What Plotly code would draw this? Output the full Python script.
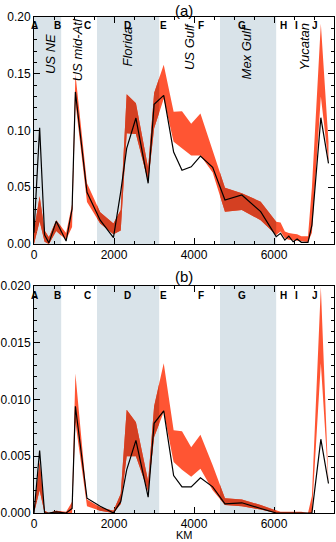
import plotly.graph_objects as go

# distance along the coast (km) of each estimate
KM = [0, 141, 265, 373, 555, 803, 952, 1035, 1325, 1655, 1986, 2168, 2317, 2548,
      2854, 3003, 3243, 3491, 3700, 3930, 4161, 4467, 4774, 5196, 5667, 6055,
      6164, 6271, 6370, 6478, 6578, 6684, 6850, 6948, 7171, 7362]

# panel (a): observed line and model range
A_OBS = [0.010, 0.1025, 0.008, 0.001, 0.020, 0.0026, 0.031, 0.134, 0.0455, 0.021,
         0.0056, 0.046, 0.0843, 0.111, 0.0535, 0.123, 0.131, 0.081, 0.065, 0.068,
         0.0775, 0.0676, 0.0388, 0.0432, 0.0285, 0.0065, 0.0094, 0.0035, 0.0070,
         0.0020, 0.0044, 0.0015, 0.0015, 0.0167, 0.1113, 0.071]
A_HI = [0.012, 0.042, 0.012, 0.006, 0.021, 0.0096, 0.035, 0.150, 0.0535, 0.028,
        0.018, 0.030, 0.132, 0.124, 0.067, 0.133, 0.158, 0.1166, 0.117, 0.106,
        0.115, 0.082, 0.0496, 0.0447, 0.0373, 0.0197, 0.019, 0.011, 0.0097,
        0.009, 0.0085, 0.0068, 0.0068, 0.05, 0.194, 0.090]
A_LO = [0.0, 0.02, 0.002, 0.0, 0.0114, 0.0037, 0.015, 0.125, 0.037, 0.018,
        0.0085, 0.012, 0.0975, 0.097, 0.055, 0.102, 0.128, 0.090, 0.0843, 0.078,
        0.078, 0.063, 0.0285, 0.030, 0.021, 0.008, 0.011, 0.005, 0.0038,
        0.003, 0.003, 0.0024, 0.0018, 0.01, 0.13, 0.072]

# panel (b)
B_OBS = [0.0, 0.0055, 0.0, 0.0, 0.0001, 0.0, 0.0004, 0.0094, 0.0013, 0.0006,
         0.0, 0.001, 0.0038, 0.0064, 0.0014, 0.0079, 0.0090, 0.0033, 0.0023, 0.0023,
         0.0031, 0.0023, 0.0008, 0.0009, 0.0004, 0.0, 0.0, 0.0, 0.0,
         0.0, 0.0, 0.0, 0.0, 0.0, 0.0065, 0.0026]
B_HI = [0.0, 0.0045, 0.0002, 0.0, 0.0002, 0.0001, 0.001, 0.0123, 0.0012, 0.0005,
        0.0002, 0.0017, 0.0091, 0.0080, 0.0028, 0.0094, 0.0132, 0.0073, 0.0072, 0.0058,
        0.0069, 0.0042, 0.0013, 0.0012, 0.0007, 0.0002, 0.0001, 0.0001, 0.0001,
        0.0001, 0.0001, 0.0001, 0.0, 0.0015, 0.0199, 0.0038]
B_LO = [0.0, 0.002, 0.0, 0.0, 0.0, 0.0, 0.0, 0.008, 0.0006, 0.0002,
        0.0, 0.0008, 0.005, 0.005, 0.0019, 0.0067, 0.0089, 0.0045, 0.0038, 0.0032,
        0.0039, 0.002, 0.0007, 0.0006, 0.0003, 0.0, 0.0, 0.0, 0.0,
        0.0, 0.0, 0.0, 0.0, 0.0, 0.0132, 0.0026]

SHADES = [(0, 680), (1575, 3130), (4650, 6055)]
LETTERS = ["A", "B", "C", "D", "E", "F", "G", "H", "I", "J"]
LETTER_KM = [17, 581, 1340, 2342, 3226, 4179, 5211, 6246, 6561, 7032]
REGIONS = ["US NE", "US mid-Atl", "Florida", "US Gulf", "Mex Gulf", "Yucatan"]
REGION_KM = [414, 1109, 2350, 3888, 5303, 6767]
REGION_Y = [0.167, 0.171, 0.174, 0.174, 0.168, 0.174]

XMAX = 7500
LIGHT_RED = "#FF5533"
DARK_RED = "#D44022"
SHADE = "#D9E3E9"
FONT = "Liberation Sans"
DOM_A = [0.5423, 1]
DOM_B = [0, 0.4577]

fig = go.Figure()


def band(hi, lo, xax, yax, color):
    return go.Scatter(
        x=KM + KM[::-1], y=hi + lo[::-1], xaxis=xax, yaxis=yax,
        fill="toself", fillcolor=color, mode="lines", line=dict(width=0),
        hoverinfo="skip", showlegend=False,
    )


panels = [(A_HI, A_LO, A_OBS, DOM_A, [0, 0.2]), (B_HI, B_LO, B_OBS, DOM_B, [0, 0.02])]

# full-range light band
for n, (hi, lo, obs, dom, yr) in enumerate(panels):
    fig.add_trace(band(hi, lo, "x" if n == 0 else "x2", "y" if n == 0 else "y2", LIGHT_RED))


def hidden_axes(n, xdom, xr, ydom, yr):
    fig.layout[f"xaxis{n}"] = dict(domain=xdom, range=xr, anchor=f"y{n}", visible=False)
    fig.layout[f"yaxis{n}"] = dict(domain=ydom, range=yr, anchor=f"x{n}", visible=False)


# darker band where it sits over the shaded coast sections (clipped subplots)
axis_id = 3
for hi, lo, obs, dom, yr in panels:
    for x0, x1 in SHADES:
        fig.add_trace(band(hi, lo, f"x{axis_id}", f"y{axis_id}", DARK_RED))
        hidden_axes(axis_id, [x0 / XMAX, x1 / XMAX], [x0, x1], dom, yr)
        axis_id += 1

# observed black line on top
for hi, lo, obs, dom, yr in panels:
    fig.add_trace(go.Scatter(
        x=KM, y=obs, xaxis=f"x{axis_id}", yaxis=f"y{axis_id}", mode="lines",
        line=dict(color="black", width=1.2), showlegend=False,
    ))
    hidden_axes(axis_id, [0, 1], [0, XMAX], dom, yr)
    axis_id += 1

common_x = dict(
    range=[0, XMAX], tick0=0, dtick=2000, ticks="inside", ticklen=6,
    tickcolor="black", minor=dict(dtick=500, ticklen=3, ticks="inside", tickcolor="black"),
    showline=True, linecolor="black", linewidth=1, mirror="allticks",
    showgrid=False, zeroline=False, tickfont=dict(family=FONT, size=12, color="black"),
)
common_y = dict(
    ticks="inside", ticklen=6, tickcolor="black",
    showline=True, linecolor="black", linewidth=1, mirror="allticks",
    showgrid=False, zeroline=False, tickfont=dict(family=FONT, size=12, color="black"),
)

fig.update_layout(
    xaxis=dict(common_x, domain=[0, 1], anchor="y"),
    yaxis=dict(common_y, domain=DOM_A, anchor="x", range=[0, 0.2], dtick=0.05,
               tickformat=".2f", minor=dict(dtick=0.01, ticklen=3, ticks="inside", tickcolor="black")),
    xaxis2=dict(common_x, domain=[0, 1], anchor="y2"),
    yaxis2=dict(common_y, domain=DOM_B, anchor="x2", range=[0, 0.02], dtick=0.005,
                tickformat=".3f", minor=dict(dtick=0.001, ticklen=3, ticks="inside", tickcolor="black")),
)

shapes = []
for yax in ["y", "y2"]:
    xref = "x" if yax == "y" else "x2"
    for x0, x1 in SHADES:
        shapes.append(dict(
            type="rect", xref=xref, yref=f"{yax} domain", x0=x0, x1=x1, y0=0, y1=1,
            fillcolor=SHADE, line=dict(width=0), layer="below",
        ))

annotations = []
for yax, xref, yval in [("y", "x", 0.1923), ("y2", "x2", 0.0192)]:
    for letter, k in zip(LETTERS, LETTER_KM):
        annotations.append(dict(
            text=f"<b>{letter}</b>", x=k, y=yval, xref=xref, yref=yax, showarrow=False,
            yanchor="middle", font=dict(family=FONT, size=10, color="black"),
        ))
for name, k, yv in zip(REGIONS, REGION_KM, REGION_Y):
    annotations.append(dict(
        text=f"<i>{name}</i>", x=k, y=yv, xref="x", yref="y", showarrow=False,
        textangle=-90, yanchor="middle", font=dict(family=FONT, size=13, color="black"),
    ))
annotations += [
    dict(text="(a)", x=0.5, y=1.014, xref="paper", yref="paper", showarrow=False,
         yanchor="middle", font=dict(family=FONT, size=15, color="black")),
    dict(text="(b)", x=0.5, y=0.4764, xref="paper", yref="paper", showarrow=False,
         yanchor="middle", font=dict(family=FONT, size=15, color="black")),
    dict(text="KM", x=0.5, y=-0.0445, xref="paper", yref="paper", showarrow=False,
         yanchor="middle", font=dict(family=FONT, size=11, color="black")),
]

fig.update_layout(
    width=336, height=542,
    margin=dict(l=33, r=1, t=17, b=29),
    paper_bgcolor="white", plot_bgcolor="rgba(0,0,0,0)",
    shapes=shapes, annotations=annotations, showlegend=False,
)

fig.write_html("out.html", config={"displayModeBar": False},
               post_script="document.body.style.margin='0';")
